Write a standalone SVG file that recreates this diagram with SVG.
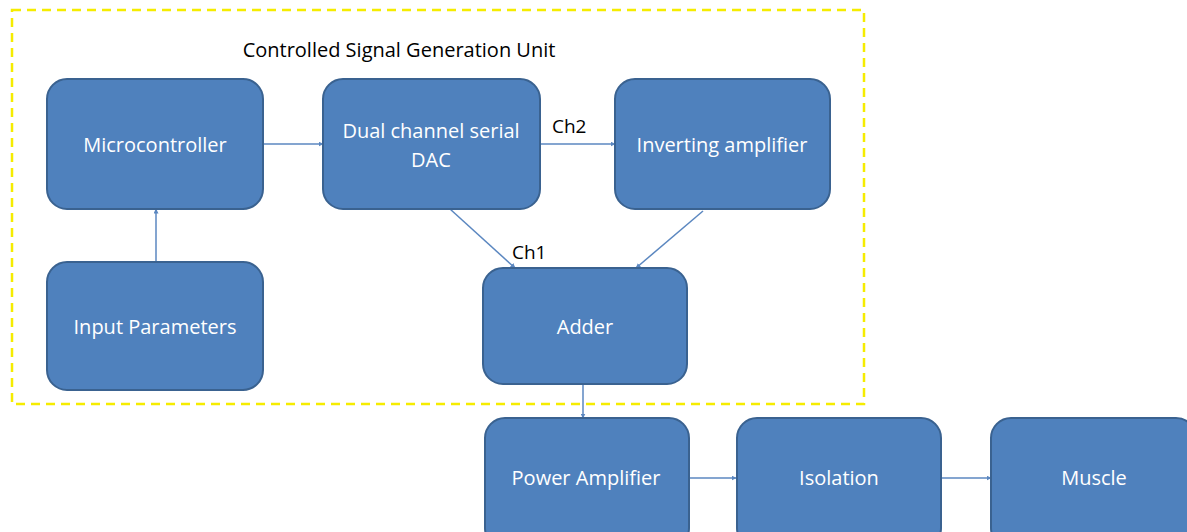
<svg xmlns="http://www.w3.org/2000/svg" width="1187" height="532" viewBox="0 0 1187 532">
<style>
.node rect{fill:#4F81BD;stroke:#3A6290;stroke-width:2}
.node text{fill:#FFFFFF;font-family:"Open Sans","Liberation Sans",sans-serif;font-size:20px;text-anchor:middle}
.conn line{stroke:#5B87C0;stroke-width:1.5;fill:none;marker-end:url(#ah)}
.lbl{fill:#000;font-family:"Open Sans","Liberation Sans",sans-serif;font-size:19px}
</style>
<defs>
<marker id="ah" viewBox="0 0 10 10" refX="9" refY="5" markerWidth="5" markerHeight="5" orient="auto" markerUnits="userSpaceOnUse">
<path d="M0,0 L10,5 L0,10 z" fill="#5B87C0"/>
</marker>
</defs>
<rect width="1187" height="532" fill="#FFFFFF"/>
<g id="group-boundary">
<rect x="12" y="10" width="852" height="394" fill="none" stroke="#F5EC00" stroke-width="2.5" stroke-dasharray="9,6"/>
<text class="lbl" x="399" y="57" text-anchor="middle" style="font-size:20px">Controlled Signal Generation Unit</text>
</g>
<g id="connectors" class="conn">
<line x1="263" y1="144" x2="323" y2="144"/>
<line x1="156" y1="262" x2="156" y2="209"/>
<line x1="540" y1="144" x2="615" y2="144"/>
<line x1="450" y1="209" x2="515" y2="268"/>
<line x1="703" y1="211" x2="636" y2="268"/>
<line x1="583" y1="384" x2="583" y2="418"/>
<line x1="689" y1="478" x2="736" y2="478"/>
<line x1="941" y1="478" x2="991" y2="478"/>
</g>
<g id="labels">
<text class="lbl" x="552" y="133">Ch2</text>
<text class="lbl" x="512" y="259">Ch1</text>
</g>
<g id="microcontroller" class="node">
<rect x="47" y="79" width="216" height="130" rx="20"/>
<text x="155" y="152">Microcontroller</text>
</g>
<g id="dac" class="node">
<rect x="323" y="79" width="217" height="130" rx="20"/>
<text x="431" y="138">Dual channel serial</text>
<text x="431" y="167">DAC</text>
</g>
<g id="inverting-amplifier" class="node">
<rect x="615" y="79" width="215" height="130" rx="20"/>
<text x="722" y="152">Inverting amplifier</text>
</g>
<g id="input-parameters" class="node">
<rect x="47" y="262" width="216" height="128" rx="20"/>
<text x="155" y="334">Input Parameters</text>
</g>
<g id="adder" class="node">
<rect x="483" y="268" width="204" height="116" rx="20"/>
<text x="585" y="334">Adder</text>
</g>
<g id="power-amplifier" class="node">
<rect x="485" y="418" width="204" height="130" rx="20"/>
<text x="586" y="485">Power Amplifier</text>
</g>
<g id="isolation" class="node">
<rect x="737" y="418" width="204" height="130" rx="20"/>
<text x="839" y="485">Isolation</text>
</g>
<g id="muscle" class="node">
<rect x="991" y="418" width="205" height="130" rx="20"/>
<text x="1094" y="485">Muscle</text>
</g>
</svg>
